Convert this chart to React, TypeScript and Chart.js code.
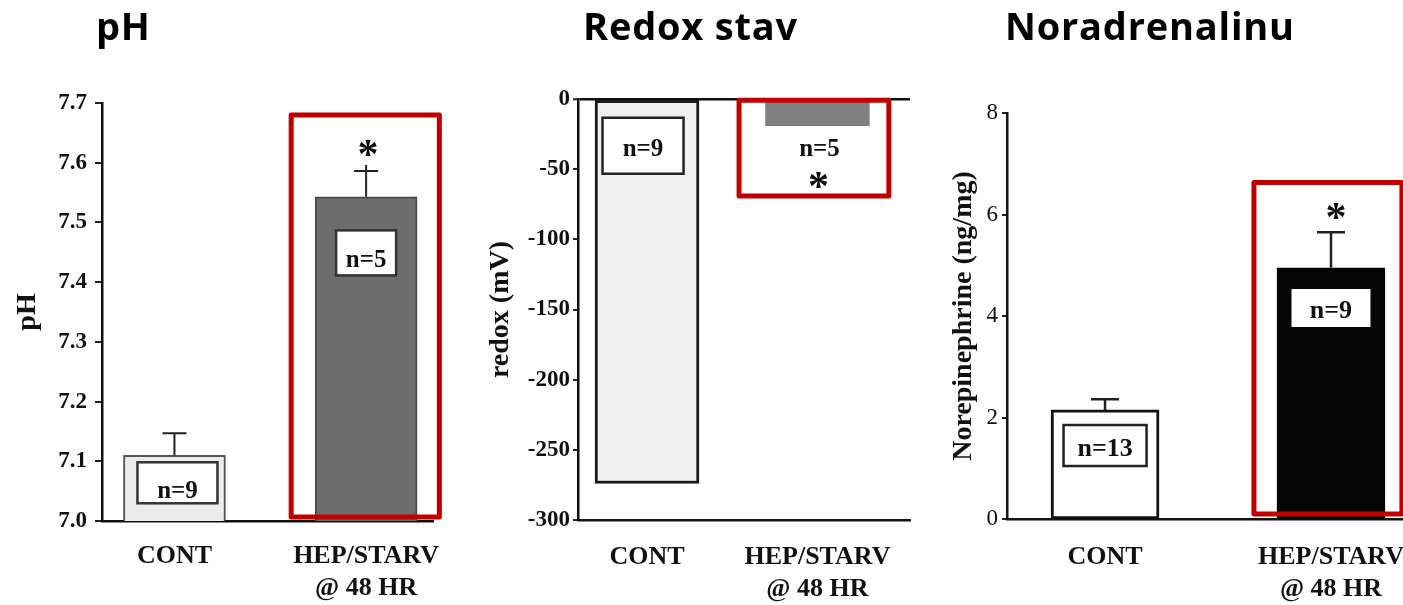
import React, { useEffect, useRef } from 'react';
import { Chart, registerables } from 'chart.js';

Chart.register(...registerables);

const SERIF = "'Liberation Serif', 'Times New Roman', serif";
const SANS = "'Open Sans', 'Liberation Sans', sans-serif";

// ---------- data ----------
const categories: (string | string[])[] = ['CONT', ['HEP/STARV', '@ 48 HR']];
const panelTitles = ['pH', 'Redox stav', 'Noradrenalinu'];
const yTitles = ['pH', 'redox (mV)', 'Norepinephrine (ng/mg)'];

const phMean = [7.11, 7.543];
const phSem = [0.037, 0.043];
const phN = ['n=9', 'n=5'];

const redoxMean = [-274, -19];
const redoxN = ['n=9', 'n=5'];

const neMean = [2.15, 4.95];
const neSem = [0.21, 0.7];
const neN = ['n=13', 'n=9'];

const significant = [false, true];

// ---------- annotation plugin ----------
const annotPlugin = {
  id: 'annot',
  afterDatasetsDraw(chart: any, _args: any, o: any) {
    if (!o || !o.labels) return;
    const ctx = chart.ctx as CanvasRenderingContext2D;
    const xs = chart.scales.x;
    const ys = chart.scales.y;
    const meta = chart.getDatasetMeta(0);
    const data = chart.data.datasets[0].data as { x: number; y: number }[];
    ctx.save();

    // error bars
    (o.sem || []).forEach((e: number | null, i: number) => {
      if (e == null) return;
      const el = meta.data[i];
      const yTop = ys.getPixelForValue(data[i].y + e);
      ctx.strokeStyle = o.errColor;
      ctx.lineWidth = o.errWidth;
      ctx.beginPath();
      ctx.moveTo(el.x, el.y);
      ctx.lineTo(el.x, yTop - ((o.errExtra && o.errExtra[i]) || 0));
      ctx.moveTo(el.x - o.cap, yTop);
      ctx.lineTo(el.x + o.cap, yTop);
      ctx.stroke();
    });

    // n labels
    o.labels.forEach((L: any, i: number) => {
      const el = meta.data[i];
      const cx = el.x + (L.dx || 0);
      const cy = ys.getPixelForValue(L.y);
      if (L.box) {
        ctx.fillStyle = L.fill;
        ctx.fillRect(cx - L.w / 2, cy - L.h / 2, L.w, L.h);
        if (L.stroke) {
          ctx.lineWidth = L.lw;
          ctx.strokeStyle = L.stroke;
          ctx.strokeRect(cx - L.w / 2, cy - L.h / 2, L.w, L.h);
        }
      }
      ctx.font = `bold ${o.nSize}px ${SERIF}`;
      ctx.textAlign = 'center';
      ctx.textBaseline = 'alphabetic';
      ctx.fillStyle = L.color || '#111';
      ctx.fillText(L.text, cx + (L.tdx || 0), cy + L.dy);
    });

    // significance stars
    (o.stars || []).forEach((s: any, i: number) => {
      if (!s) return;
      const el = meta.data[i];
      const cy = ys.getPixelForValue(s.y);
      ctx.font = `bold ${o.starSize}px ${SERIF}`;
      ctx.textAlign = 'center';
      ctx.textBaseline = 'alphabetic';
      ctx.fillStyle = '#111';
      ctx.fillText('*', el.x + (s.dx || 0), cy + o.starSize * 0.49);
    });

    // highlight rectangle
    if (o.hl) {
      const [x0, x1, y0, y1] = o.hl;
      const px0 = xs.getPixelForValue(x0);
      const px1 = xs.getPixelForValue(x1);
      const py0 = ys.getPixelForValue(y0);
      const py1 = ys.getPixelForValue(y1);
      ctx.strokeStyle = '#c00000';
      ctx.lineWidth = 5;
      ctx.lineJoin = 'round';
      ctx.strokeRect(Math.min(px0, px1), Math.min(py0, py1), Math.abs(px1 - px0), Math.abs(py1 - py0));
    }
    ctx.restore();
  },
};

// ---------- scale builders ----------
function xScale(min: number, max: number, pad: number, h: number) {
  return {
    type: 'linear',
    min,
    max,
    offset: false,
    afterBuildTicks: (s: any) => {
      s.ticks = categories.map((_, i) => ({ value: i }));
    },
    ticks: {
      autoSkip: false,
      maxRotation: 0,
      minRotation: 0,
      padding: pad,
      color: '#111',
      font: { family: SERIF, size: 26, weight: 'bold', lineHeight: 1.2 },
      callback: (_v: any, i: number) => categories[i],
    },
    grid: { display: false, drawTicks: false },
    border: { display: true, color: '#111', width: 2.5 },
    afterFit: (s: any) => {
      s.height = h;
    },
  };
}

function yScale(p: any) {
  return {
    type: 'linear',
    min: p.min,
    max: p.max,
    ticks: {
      stepSize: p.step,
      padding: p.tickPad,
      color: '#111',
      font: { family: SERIF, size: 23, weight: p.bold ? 'bold' : 'normal' },
      callback: (v: number) => p.fmt(v),
    },
    grid: {
      display: true,
      drawOnChartArea: !!p.zeroLine,
      drawTicks: true,
      tickLength: p.tickLen,
      tickColor: '#222',
      tickWidth: 2,
      color: (c: any) => (p.zeroLine && c.tick && c.tick.value === 0 ? '#111' : 'rgba(0,0,0,0)'),
      lineWidth: (c: any) => (p.zeroLine && c.tick && c.tick.value === 0 ? 2.5 : 0),
    },
    border: { display: true, color: '#111', width: 2.5 },
    title: {
      display: true,
      text: p.title,
      color: '#111',
      font: { family: SERIF, size: 28, weight: 'bold', lineHeight: 1.2 },
      padding: { top: p.titlePad, bottom: 0 },
    },
    afterFit: (s: any) => {
      s.width = p.width;
    },
  };
}

function baseOptions(pad: any, scales: any, annot: any) {
  return {
    responsive: false,
    animation: false,
    devicePixelRatio: 1,
    layout: { padding: pad },
    scales,
    plugins: { legend: { display: false }, tooltip: { enabled: false }, title: { display: false }, annot },
  };
}

// ---------- configs ----------
const phConfig: any = {
  type: 'bar',
  data: {
    datasets: [
      {
        data: phMean.map((y, i) => ({ x: i, y })),
        backgroundColor: ['#ececec', '#6d6d6d'],
        borderColor: ['#555555', '#4a4a4a'],
        borderWidth: [2, 2],
        borderSkipped: false,
        barThickness: 102,
      },
    ],
  },
  options: baseOptions(
    { left: 8, top: 103, right: 29, bottom: 0 },
    {
      x: xScale(-0.378, 1.352, 20, 84),
      y: yScale({ min: 7.0, max: 7.7, step: 0.1, fmt: (v: number) => v.toFixed(1), bold: true, tickLen: 7, tickPad: 8, width: 94, title: yTitles[0], titlePad: 3 }),
    },
    {
      sem: phSem,
      errExtra: [0, 6],
      errColor: '#222',
      errWidth: 2,
      cap: 12,
      nSize: 25,
      starSize: 42,
      labels: [
        { text: phN[0], y: 7.064, w: 80, h: 41, box: true, fill: '#ffffff', stroke: '#333', lw: 2.5, dy: 15, dx: 3 },
        { text: phN[1], y: 7.449, w: 60, h: 45, box: true, fill: '#ffffff', stroke: '#333', lw: 2.5, dy: 14 },
      ],
      stars: significant.map((s) => (s ? { y: 7.625, dx: 2 } : null)),
      hl: [0.609, 1.382, 7.0067, 7.68],
    }
  ),
  plugins: [annotPlugin],
};

const redoxConfig: any = {
  type: 'bar',
  data: {
    datasets: [
      {
        data: redoxMean.map((y, i) => ({ x: i, y })),
        backgroundColor: ['#f0f0f0', '#808080'],
        borderColor: ['#1a1a1a', '#777777'],
        borderWidth: [3, 1],
        borderSkipped: false,
        barThickness: 104,
      },
    ],
  },
  options: baseOptions(
    { left: 8, top: 99, right: 20, bottom: 0 },
    {
      x: xScale(-0.405, 1.543, 22, 85),
      y: yScale({ min: -300, max: 0, step: 50, fmt: (v: number) => String(v), bold: true, tickLen: 5, tickPad: 3, width: 100, title: yTitles[1], titlePad: 6, zeroLine: true }),
    },
    {
      sem: [],
      nSize: 25,
      starSize: 42,
      labels: [
        { text: redoxN[0], y: -33.3, w: 81, h: 56, box: true, fill: '#ffffff', stroke: '#222', lw: 2.5, dy: 10, dx: -4 },
        { text: redoxN[1], y: -33.3, box: false, dy: 10, dx: 2 },
      ],
      stars: significant.map((s) => (s ? { y: -57.5, dx: 1 } : null)),
      hl: [0.54, 1.419, -0.85, -69.2],
    }
  ),
  plugins: [annotPlugin],
};

const neConfig: any = {
  type: 'bar',
  data: {
    datasets: [
      {
        data: neMean.map((y, i) => ({ x: i, y })),
        backgroundColor: ['#ffffff', '#050505'],
        borderColor: ['#111111', '#050505'],
        borderWidth: [3, 1],
        borderSkipped: false,
        barThickness: 108,
      },
    ],
  },
  options: baseOptions(
    { left: 8, top: 113, right: 10, bottom: 0 },
    {
      x: xScale(-0.434, 1.394, 23, 86),
      y: yScale({ min: 0, max: 8, step: 2, fmt: (v: number) => String(v), bold: false, tickLen: 5, tickPad: 4, width: 69, title: yTitles[2], titlePad: 9 }),
    },
    {
      sem: neSem,
      errColor: '#222',
      errWidth: 2.5,
      cap: 14,
      nSize: 26,
      starSize: 42,
      labels: [
        { text: neN[0], y: 1.448, w: 83, h: 41, box: true, fill: '#ffffff', stroke: '#222', lw: 2.5, dy: 10.5 },
        { text: neN[1], y: 4.158, w: 79, h: 38, box: true, fill: '#ffffff', stroke: null, lw: 0, dy: 10 },
      ],
      stars: significant.map((s) => (s ? { y: 6.09, dx: 5 } : null)),
      hl: [0.659, 1.314, 0.1, 6.63],
    }
  ),
  plugins: [annotPlugin],
};

// ---------- components ----------
function Panel({ left, width, config }: { left: number; width: number; config: any }) {
  const ref = useRef<HTMLCanvasElement | null>(null);
  useEffect(() => {
    if (!ref.current) return;
    const chart = new Chart(ref.current, config);
    return () => chart.destroy();
  }, [config]);
  return (
    <canvas
      ref={ref}
      width={width}
      height={605}
      style={{ position: 'absolute', left, top: 0, width, height: 605 }}
    />
  );
}

const titleStyle = (left: number): React.CSSProperties => ({
  position: 'absolute',
  left,
  top: 6,
  fontFamily: SANS,
  fontWeight: 700,
  fontSize: 38,
  lineHeight: '38px',
  letterSpacing: '0.8px',
  color: '#000',
  whiteSpace: 'nowrap',
});

export default function App() {
  return (
    <div
      style={{
        position: 'fixed',
        left: 0,
        top: 0,
        width: 1403,
        height: 605,
        overflow: 'hidden',
        background: '#ffffff',
      }}
    >
      <Panel left={0} width={465} config={phConfig} />
      <Panel left={470} width={460} config={redoxConfig} />
      <Panel left={930} width={500} config={neConfig} />
      <div style={titleStyle(96)}>{panelTitles[0]}</div>
      <div style={titleStyle(583)}>{panelTitles[1]}</div>
      <div style={titleStyle(1005)}>{panelTitles[2]}</div>
    </div>
  );
}
